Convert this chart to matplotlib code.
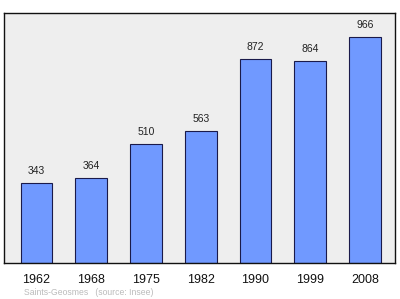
import matplotlib
matplotlib.use("Agg")
import matplotlib.pyplot as plt

plt.rcParams['font.family'] = ['Liberation Sans', 'DejaVu Sans']

# Data
years = ["1962", "1968", "1975", "1982", "1990", "1999", "2008"]
population = [343, 364, 510, 563, 872, 864, 966]

fig = plt.figure(figsize=(4.0, 2.99), dpi=100)
ax = fig.add_axes([0.01, 0.1204, 0.9775, 0.8361])
ax.set_facecolor("#eeeeee")

x = range(len(years))
ax.bar(x, population, width=0.58, color="#7099ff", edgecolor="#1a1a4a", linewidth=0.8, zorder=2)

for xi, v in zip(x, population):
    ax.text(xi, v + 30, str(v), ha="center", va="bottom", fontsize=7.5, color="#222222")

ax.set_xlim(-0.594, 6.548)
ax.set_ylim(0, 1068)
ax.set_xticks(list(x))
ax.set_xticklabels(years, fontsize=9, color="#111111")
ax.tick_params(axis="x", length=0, pad=8)
ax.set_yticks([])
for s in ax.spines.values():
    s.set_color("#111111")
    s.set_linewidth(1.0)

fig.text(0.06, 0.008, "Saints-Geosmes   (source: Insee)", fontsize=6.2, color="#bbbbbb", ha="left", va="bottom")

fig.savefig("out.png", dpi=100, facecolor="white")
